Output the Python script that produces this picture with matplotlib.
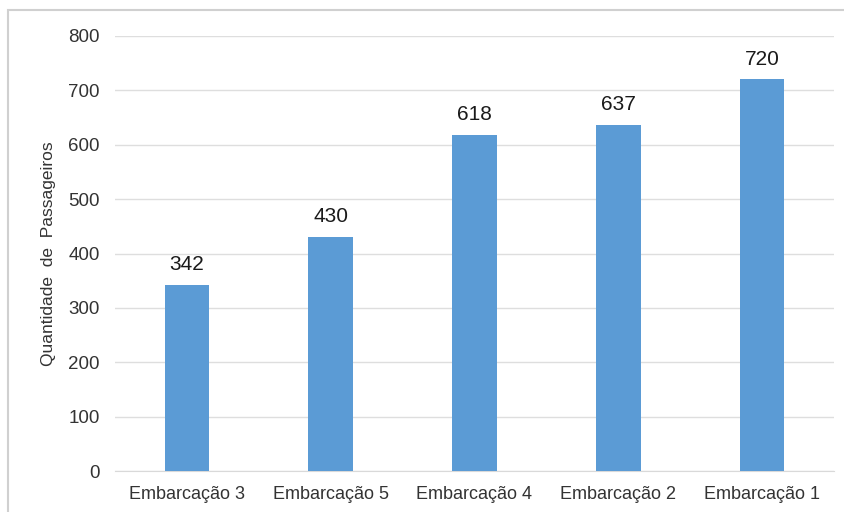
import matplotlib
matplotlib.use("Agg")
import matplotlib.pyplot as plt
from matplotlib.patches import Rectangle

# Passenger counts per vessel
embarcacoes = ["Embarcação 3", "Embarcação 5", "Embarcação 4", "Embarcação 2", "Embarcação 1"]
passageiros = [342, 430, 618, 637, 720]
y_ticks = [0, 100, 200, 300, 400, 500, 600, 700, 800]

plt.rcParams['font.family'] = ['Liberation Sans', 'DejaVu Sans']

fig = plt.figure(figsize=(8.45, 5.12), dpi=100)
ax = fig.add_axes([0.136, 0.080, 0.851, 0.8497])

x = range(len(embarcacoes))
bars = ax.bar(x, passageiros, width=0.31, color="#5b9bd5", zorder=3)

for b, v in zip(bars, passageiros):
    ax.text(b.get_x() + b.get_width() / 2, v + 20, str(v),
            ha="center", va="bottom", fontsize=15, color="#1a1a1a")

ax.set_xlim(-0.5, len(embarcacoes) - 0.5)
ax.set_ylim(0, 800)
ax.set_yticks(y_ticks)
ax.set_xticks(list(x))
ax.set_xticklabels(embarcacoes, fontsize=13, color="#333333")
ax.tick_params(axis="y", labelsize=13.5, labelcolor="#333333", length=0, pad=11)
ax.tick_params(axis="x", length=0, pad=11)
ax.grid(axis="y", color="#dedede", linewidth=1, zorder=0)

for s in ["top", "right", "left"]:
    ax.spines[s].set_visible(False)
ax.spines["bottom"].set_color("#d9d9d9")

ax.set_ylabel("Quantidade  de  Passageiros", fontsize=12.5, color="#333333", labelpad=9)

# light frame around the chart
fig.patches.append(Rectangle((8 / 845, -0.1), 1.1, 1.1 - 10 / 512,
                             transform=fig.transFigure, fill=False,
                             edgecolor="#d0d0d0", linewidth=1.5))

fig.savefig("out.png", dpi=100)
